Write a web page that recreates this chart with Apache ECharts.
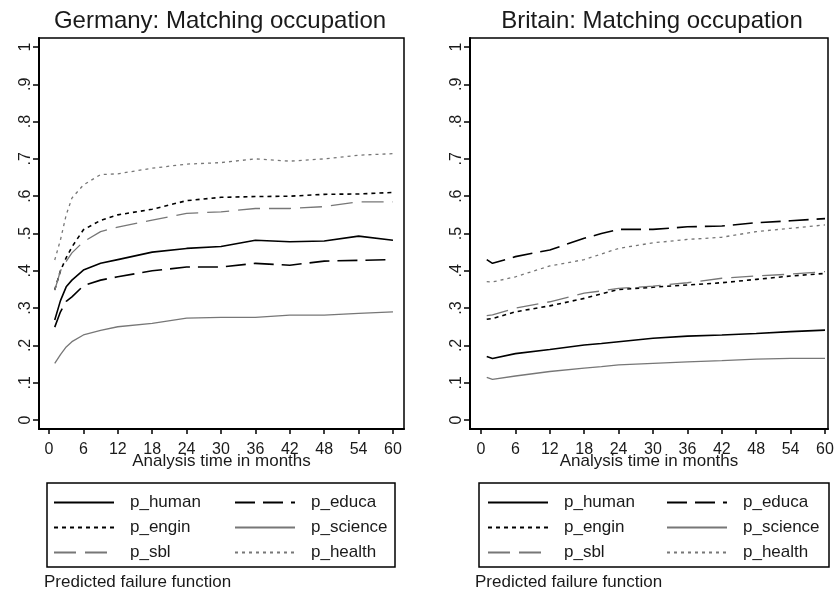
<!DOCTYPE html>
<html>
<head>
<meta charset="utf-8">
<script src="https://cdn.jsdelivr.net/npm/echarts@6/dist/echarts.min.js"></script>
<style>
  html, body { margin: 0; background: #ffffff; }
  #chart { width: 837px; height: 592px; }
</style>
</head>
<body>
<div id="chart"></div>
<script>
var deMonths = [1, 2, 3, 4, 6, 9, 12, 18, 24, 30, 36, 42, 48, 54, 60]
var deHuman = [0.268, 0.32, 0.357, 0.375, 0.402, 0.42, 0.43, 0.45, 0.46, 0.465, 0.482, 0.478, 0.48, 0.493, 0.482]
var deEduca = [0.249, 0.29, 0.318, 0.33, 0.36, 0.375, 0.384, 0.40, 0.41, 0.41, 0.42, 0.415, 0.426, 0.428, 0.43]
var deEngin = [0.349, 0.40, 0.435, 0.464, 0.51, 0.535, 0.55, 0.565, 0.588, 0.597, 0.599, 0.60, 0.605, 0.606, 0.61]
var deScience = [0.152, 0.175, 0.196, 0.21, 0.228, 0.24, 0.25, 0.259, 0.273, 0.275, 0.275, 0.281, 0.281, 0.286, 0.29]
var deSbl = [0.348, 0.40, 0.425, 0.448, 0.478, 0.505, 0.517, 0.536, 0.554, 0.558, 0.567, 0.567, 0.572, 0.585, 0.585]
var deHealth = [0.429, 0.483, 0.55, 0.595, 0.63, 0.658, 0.66, 0.675, 0.686, 0.69, 0.70, 0.694, 0.70, 0.71, 0.714]

var gbMonths = [1, 2, 6, 12, 18, 21, 24, 30, 36, 42, 48, 54, 60]
var gbHuman = [0.17, 0.165, 0.178, 0.189, 0.201, 0.205, 0.21, 0.219, 0.225, 0.228, 0.232, 0.237, 0.241]
var gbEduca = [0.43, 0.42, 0.438, 0.456, 0.487, 0.5, 0.511, 0.511, 0.518, 0.52, 0.529, 0.534, 0.54]
var gbEngin = [0.27, 0.272, 0.29, 0.306, 0.326, 0.338, 0.35, 0.356, 0.362, 0.368, 0.377, 0.386, 0.393]
var gbScience = [0.114, 0.109, 0.118, 0.13, 0.139, 0.143, 0.148, 0.152, 0.156, 0.159, 0.163, 0.165, 0.165]
var gbSbl = [0.28, 0.282, 0.30, 0.317, 0.34, 0.346, 0.353, 0.359, 0.368, 0.38, 0.386, 0.391, 0.398]
var gbHealth = [0.371, 0.37, 0.384, 0.413, 0.43, 0.445, 0.46, 0.475, 0.484, 0.49, 0.505, 0.514, 0.523]

var xTicks = [0, 6, 12, 18, 24, 30, 36, 42, 48, 54, 60]
var yTicks = [0, 0.1, 0.2, 0.3, 0.4, 0.5, 0.6, 0.7, 0.8, 0.9, 1]
var titles = ['Germany: Matching occupation', 'Britain: Matching occupation']
var legendCol1 = ['p_human', 'p_engin', 'p_sbl']
var legendCol2 = ['p_educa', 'p_science', 'p_health']

var font = '"Liberation Sans", Arial, sans-serif'
var ink = '#1a1a1a'

var lineStyles = {
  p_human: { color: '#000000', width: 1.6, type: 'solid' },
  p_educa: { color: '#000000', width: 1.6, type: [20, 8] },
  p_engin: { color: '#000000', width: 1.6, type: [4, 4] },
  p_science: { color: '#777777', width: 1.3, type: 'solid' },
  p_sbl: { color: '#777777', width: 1.3, type: [22, 9] },
  p_health: { color: '#777777', width: 1.3, type: [3, 4] }
}

function pairs(months, vals) {
  return months.map(function(m, i) { return [m, vals[i]] })
}

function makeSeries(idx, name, months, vals) {
  return {
    name: name,
    type: 'line',
    xAxisIndex: idx,
    yAxisIndex: idx,
    symbol: 'none',
    silent: true,
    color: lineStyles[name].color,
    lineStyle: lineStyles[name],
    data: pairs(months, vals)
  }
}

function yLabel(v) {
  if (v === 0) return '0'
  if (v === 1) return '1'
  return String(v).replace('0.', '.')
}

function xAxisFor(idx, min, max) {
  return {
    type: 'value',
    gridIndex: idx,
    min: min,
    max: max,
    name: 'Analysis time in months',
    nameLocation: 'middle',
    nameGap: 24,
    nameMoveOverlap: false,
    nameTextStyle: { fontFamily: font, fontSize: 17, color: ink },
    axisLine: { onZero: false, lineStyle: { color: '#000', width: 2 } },
    axisTick: { customValues: xTicks, length: 5, lineStyle: { color: '#000', width: 1.5 } },
    axisLabel: { customValues: xTicks, margin: 13, fontFamily: font, fontSize: 16, color: ink },
    splitLine: { show: false }
  }
}

function yAxisFor(idx) {
  return {
    type: 'value',
    gridIndex: idx,
    min: -0.0241,
    max: 1.0241,
    axisLine: { onZero: false, lineStyle: { color: '#000', width: 2 } },
    axisTick: { customValues: yTicks, length: 6, lineStyle: { color: '#000', width: 1.5 } },
    axisLabel: {
      customValues: yTicks,
      rotate: 90,
      margin: 5,
      fontFamily: font,
      fontSize: 16,
      color: ink,
      formatter: yLabel
    },
    splitLine: { show: false }
  }
}

function legendFor(names, left) {
  return {
    data: names,
    orient: 'vertical',
    left: left,
    top: 494,
    padding: 0,
    itemWidth: 60,
    itemHeight: 17,
    itemGap: 8,
    selectedMode: false,
    // hide the marker circle, keep the line sample
    itemStyle: { color: 'rgba(0,0,0,0)', borderWidth: 0, opacity: 0 },
    textStyle: { fontFamily: font, fontSize: 17, color: ink, padding: [0, 0, 0, 11] }
  }
}

var chart = echarts.init(document.getElementById('chart'))
chart.setOption({
  backgroundColor: '#ffffff',
  animation: false,
  grid: [
    { left: 39, top: 38, width: 365, height: 391, show: true, borderColor: '#000', borderWidth: 1.5 },
    { left: 470, top: 38, width: 358, height: 391, show: true, borderColor: '#000', borderWidth: 1.5 }
  ],
  xAxis: [xAxisFor(0, -1.744, 61.92), xAxisFor(1, -1.92, 60.52)],
  yAxis: [yAxisFor(0), yAxisFor(1)],
  legend: [
    legendFor(legendCol1, 53),
    legendFor(legendCol2, 234),
    legendFor(legendCol1, 487),
    legendFor(legendCol2, 666)
  ],
  graphic: [
    { type: 'text', x: 220, y: 21, style: { text: titles[0], font: '24px ' + font, fill: ink, align: 'center', verticalAlign: 'middle' } },
    { type: 'text', x: 652, y: 21, style: { text: titles[1], font: '24px ' + font, fill: ink, align: 'center', verticalAlign: 'middle' } },
    { type: 'rect', shape: { x: 47, y: 483, width: 348, height: 84 }, style: { fill: 'none', stroke: '#000', lineWidth: 1.5 } },
    { type: 'rect', shape: { x: 479, y: 483, width: 350, height: 84 }, style: { fill: 'none', stroke: '#000', lineWidth: 1.5 } },
    { type: 'text', x: 44, y: 582, style: { text: 'Predicted failure function', font: '17px ' + font, fill: ink, align: 'left', verticalAlign: 'middle' } },
    { type: 'text', x: 475, y: 582, style: { text: 'Predicted failure function', font: '17px ' + font, fill: ink, align: 'left', verticalAlign: 'middle' } }
  ],
  series: [
    makeSeries(0, 'p_human', deMonths, deHuman),
    makeSeries(0, 'p_educa', deMonths, deEduca),
    makeSeries(0, 'p_engin', deMonths, deEngin),
    makeSeries(0, 'p_science', deMonths, deScience),
    makeSeries(0, 'p_sbl', deMonths, deSbl),
    makeSeries(0, 'p_health', deMonths, deHealth),
    makeSeries(1, 'p_human', gbMonths, gbHuman),
    makeSeries(1, 'p_educa', gbMonths, gbEduca),
    makeSeries(1, 'p_engin', gbMonths, gbEngin),
    makeSeries(1, 'p_science', gbMonths, gbScience),
    makeSeries(1, 'p_sbl', gbMonths, gbSbl),
    makeSeries(1, 'p_health', gbMonths, gbHealth)
  ]
})
</script>
</body>
</html>
